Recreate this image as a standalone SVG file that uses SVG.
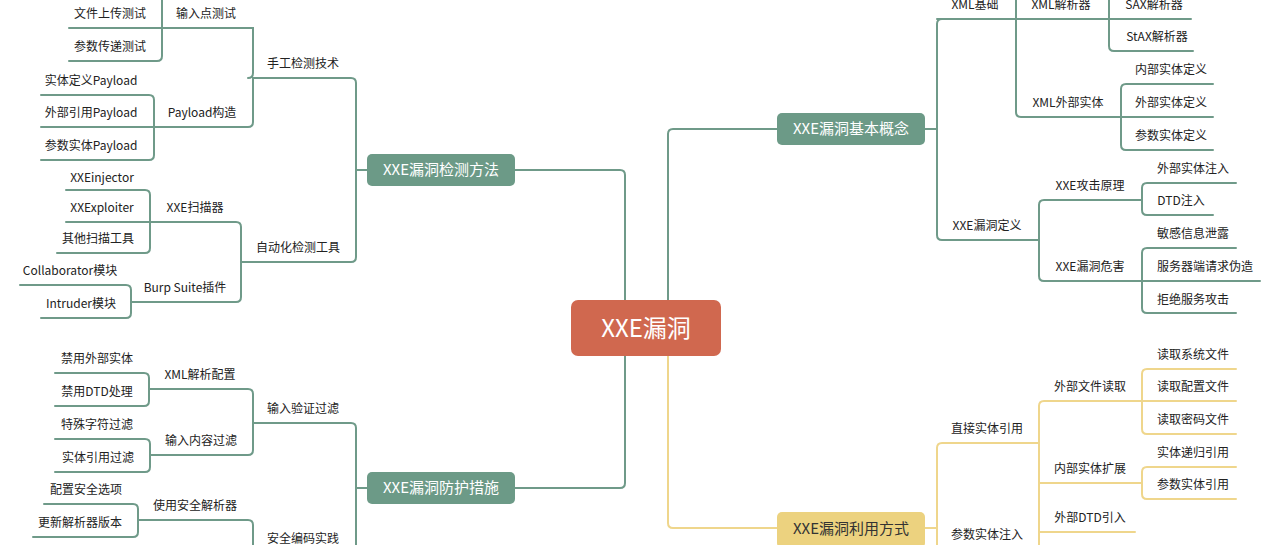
<svg xmlns="http://www.w3.org/2000/svg" width="1280" height="545" viewBox="0 0 1280 545">
<style>
.g{fill:none;stroke:#6f9a89;stroke-width:2;stroke-linecap:round}
.y{fill:none;stroke:#efd68c;stroke-width:2;stroke-linecap:round}
text{font-family:"Noto Sans CJK SC","Liberation Sans",sans-serif;font-size:12px;fill:#222;text-anchor:middle}
.nt{font-size:15px;fill:#fff}
.yt{font-size:15px;fill:#333}
.ct{font-size:24px;fill:#fff}
</style>
<rect width="1280" height="545" fill="#fff"/>
<g id="connectors">
<path class="g" d="M515,170 H620 Q625,170 625,175 V300 M515,488 H620 Q625,488 625,483 V356 M777,129 H673 Q668,129 668,134 V300"/>
<path class="y" d="M668,356 V523 Q668,528 673,528 H777"/>
<path class="g" d="M367,170 H356 M367,488 H356 M925,129 H937"/>
<path class="y" d="M925,528 H937"/>
<!-- left top -->
<path class="g" d="M253,78 H351 Q356,78 356,83 V170 M241,262 H351 Q356,262 356,257 V170
M162,28 H253 V73 Q253,78 248,78 M154,127 H248 Q253,127 253,122 V78
M69,28 H162 M162,0 V28 M69,61 H157 Q162,61 162,56 V28
M41,95 H149 Q154,95 154,100 V127 M41,127 H154 M41,160 H149 Q154,160 154,155 V127
M150,222 H236 Q241,222 241,227 V262 M131,302 H236 Q241,302 241,297 V262
M66,190 H145 Q150,190 150,195 V222 M66,222 H150 M57,253 H145 Q150,253 150,248 V222
M20,285 H126 Q131,285 131,290 V302 M41,318 H126 Q131,318 131,313 V302"/>
<!-- left bottom -->
<path class="g" d="M253,423 H351 Q356,423 356,428 V545 M253,553 H356
M149,389 H248 Q253,389 253,394 V423 M150,455 H248 Q253,455 253,450 V423
M138,520 H248 Q253,520 253,525 V553
M55,373 H144 Q149,373 149,378 V389 M55,406 H144 Q149,406 149,401 V389
M55,439 H145 Q150,439 150,444 V455 M55,472 H145 Q150,472 150,467 V455
M44,504 H133 Q138,504 138,509 V520 M33,537 H133 Q138,537 138,532 V520"/>
<!-- right top -->
<path class="g" d="M942,19 Q937,19 937,24 V235 Q937,240 942,240 H1039 M937,19 H1016
M1016,0 V112 Q1016,117 1021,117 H1121 M1016,19 H1109
M1109,0 V46 Q1109,51 1114,51 H1193 M1109,19 H1191
M1126,84 Q1121,84 1121,89 V145 Q1121,150 1126,150 H1213 M1126,84 H1213 M1121,117 H1213
M1044,200 Q1039,200 1039,205 V276 Q1039,281 1044,281 H1142 M1044,200 H1142
M1147,183 Q1142,183 1142,188 V210 Q1142,215 1147,215 H1213 M1147,183 H1236
M1147,248 Q1142,248 1142,253 V308 Q1142,313 1147,313 H1236 M1147,248 H1236 M1142,281 H1260"/>
<!-- right bottom -->
<path class="y" d="M942,443 Q937,443 937,448 V545 M942,443 H1039
M1044,401 Q1039,401 1039,406 V545 M1044,401 H1142 M1039,483 H1142 M1039,532 H1135
M1147,369 Q1142,369 1142,374 V429 Q1142,434 1147,434 H1236 M1147,369 H1236 M1142,401 H1236
M1147,467 Q1142,467 1142,472 V494 Q1142,499 1147,499 H1236 M1147,467 H1236"/>
</g>
<g id="center"><rect x="571" y="300" width="150" height="56" rx="7" fill="#d0684f"/><text class="ct" x="646" y="337">XXE漏洞</text></g>
<g id="n-detect"><rect x="367" y="154" width="148" height="32" rx="5" fill="#6c9a87"/><text class="nt" x="441" y="175">XXE漏洞检测方法</text></g>
<g id="n-protect"><rect x="367" y="472" width="148" height="32" rx="5" fill="#6c9a87"/><text class="nt" x="441" y="493">XXE漏洞防护措施</text></g>
<g id="n-concept"><rect x="777" y="113" width="148" height="32" rx="5" fill="#6c9a87"/><text class="nt" x="851" y="134">XXE漏洞基本概念</text></g>
<g id="n-exploit"><rect x="777" y="512" width="148" height="36" rx="5" fill="#ecd27f"/><text class="yt" x="851" y="534">XXE漏洞利用方式</text></g>
<g id="labels">
<text x="110" y="18">文件上传测试</text><text x="110" y="51">参数传递测试</text><text x="206" y="18">输入点测试</text>
<text x="303" y="68">手工检测技术</text>
<text x="91" y="85">实体定义Payload</text><text x="91" y="117">外部引用Payload</text><text x="91" y="150">参数实体Payload</text>
<text x="202" y="117">Payload构造</text>
<text x="102" y="182">XXEinjector</text><text x="102" y="212">XXExploiter</text><text x="98" y="243">其他扫描工具</text>
<text x="195" y="212">XXE扫描器</text><text x="298" y="252">自动化检测工具</text>
<text x="70" y="275">Collaborator模块</text><text x="81" y="308">Intruder模块</text><text x="185" y="292">Burp Suite插件</text>
<text x="97" y="363">禁用外部实体</text><text x="97" y="396">禁用DTD处理</text><text x="200" y="379">XML解析配置</text>
<text x="303" y="413">输入验证过滤</text>
<text x="97" y="429">特殊字符过滤</text><text x="98" y="462">实体引用过滤</text><text x="201" y="445">输入内容过滤</text>
<text x="86" y="494">配置安全选项</text><text x="80" y="527">更新解析器版本</text><text x="195" y="510">使用安全解析器</text>
<text x="303" y="543">安全编码实践</text>
<text x="975" y="9">XML基础</text><text x="1061" y="9">XML解析器</text><text x="1154" y="9">SAX解析器</text><text x="1157" y="41">StAX解析器</text>
<text x="1068" y="107">XML外部实体</text>
<text x="1171" y="74">内部实体定义</text><text x="1171" y="107">外部实体定义</text><text x="1171" y="140">参数实体定义</text>
<text x="987" y="230">XXE漏洞定义</text><text x="1090" y="190">XXE攻击原理</text><text x="1090" y="271">XXE漏洞危害</text>
<text x="1193" y="173">外部实体注入</text><text x="1181" y="205">DTD注入</text>
<text x="1193" y="238">敏感信息泄露</text><text x="1205" y="271">服务器端请求伪造</text><text x="1193" y="304">拒绝服务攻击</text>
<text x="987" y="433">直接实体引用</text><text x="1090" y="391">外部文件读取</text><text x="1090" y="473">内部实体扩展</text>
<text x="1193" y="359">读取系统文件</text><text x="1193" y="391">读取配置文件</text><text x="1193" y="424">读取密码文件</text>
<text x="1193" y="457">实体递归引用</text><text x="1193" y="489">参数实体引用</text>
<text x="987" y="539">参数实体注入</text><text x="1090" y="522">外部DTD引入</text>
</g>
</svg>
